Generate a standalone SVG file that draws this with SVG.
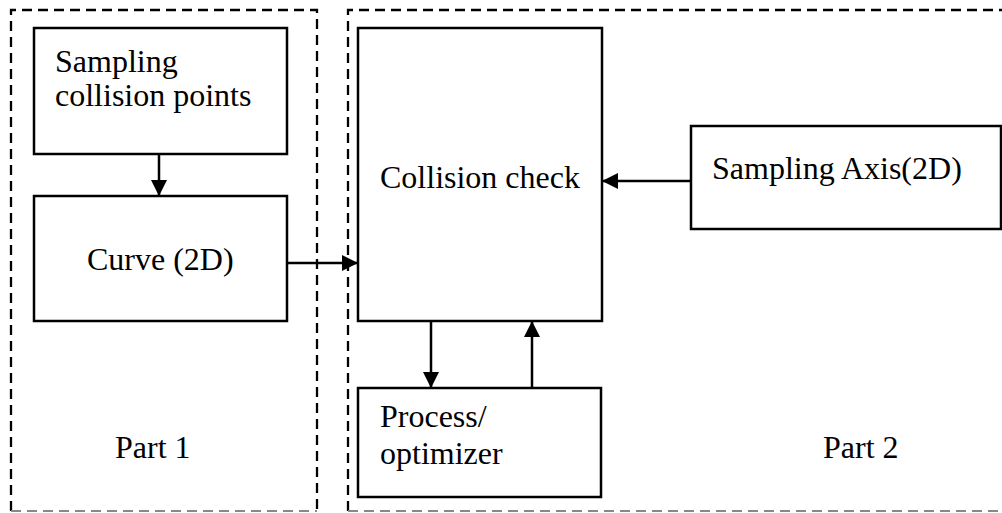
<svg xmlns="http://www.w3.org/2000/svg" width="1002" height="513" viewBox="0 0 1002 513">
<style>
.box{fill:#fff;stroke:#000;stroke-width:2.5}
.dash{fill:none;stroke:#000;stroke-width:2.3;stroke-dasharray:10 6}
.dashb{fill:none;stroke:#888;stroke-width:2;stroke-dasharray:10 6}
.t{font-family:"Liberation Serif","Times New Roman",serif;font-size:32px;fill:#000}
.c{stroke:#000;stroke-width:2.5;fill:none;marker-end:url(#ah)}
</style>
<defs>
<marker id="ah" markerUnits="userSpaceOnUse" markerWidth="17" markerHeight="17" refX="16" refY="8" orient="auto">
<path d="M0,0 L16,8 L0,16 Z" fill="#000"/>
</marker>
</defs>
<g id="part1">
<path class="dash" d="M11,511 V10 H317 V511"/>
<path class="dashb" d="M11,511 H317"/>
<text class="t" x="115" y="458">Part 1</text>
</g>
<g id="part2">
<path class="dash" d="M348,511 V10 H1010"/>
<path class="dashb" d="M348,511 H1010"/>
<text class="t" x="823" y="458">Part 2</text>
</g>
<g id="sampling-points">
<rect class="box" x="34" y="28" width="253" height="126"/>
<text class="t" x="55" y="72">Sampling</text>
<text class="t" x="55" y="106">collision points</text>
</g>
<g id="curve">
<rect class="box" x="34" y="196" width="253" height="125"/>
<text class="t" x="87" y="270">Curve (2D)</text>
</g>
<g id="collision-check">
<rect class="box" x="358" y="28" width="244" height="293"/>
<text class="t" x="380" y="188">Collision check</text>
</g>
<g id="sampling-axis">
<rect class="box" x="691" y="126" width="310" height="103"/>
<text class="t" x="712" y="179">Sampling Axis(2D)</text>
</g>
<g id="process">
<rect class="box" x="358" y="388" width="243" height="109"/>
<text class="t" x="380" y="427">Process/</text>
<text class="t" x="380" y="464">optimizer</text>
</g>
<g id="connectors">
<line class="c" x1="159" y1="154" x2="159" y2="196"/>
<line class="c" x1="287" y1="263" x2="358" y2="263"/>
<line class="c" x1="691" y1="181" x2="602" y2="181"/>
<line class="c" x1="431" y1="321" x2="431" y2="388"/>
<line class="c" x1="532" y1="388" x2="532" y2="321"/>
</g>
</svg>
